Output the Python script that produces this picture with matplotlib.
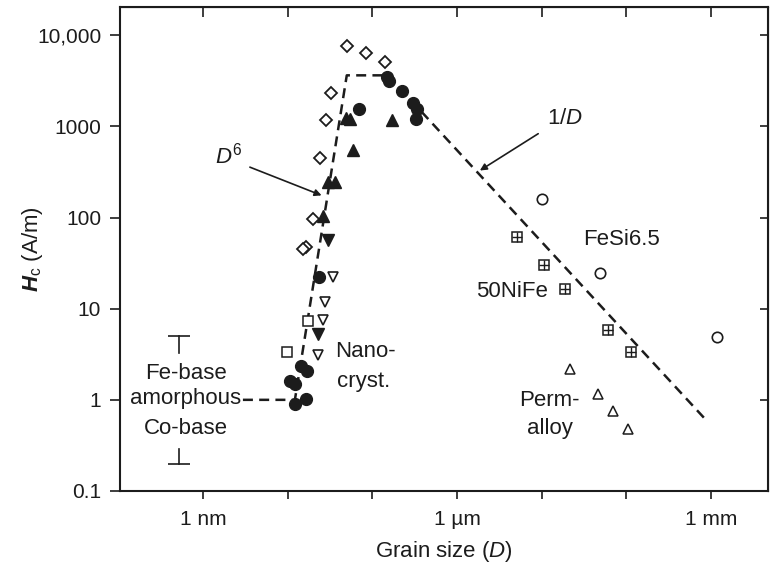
import matplotlib
matplotlib.use("Agg")
import matplotlib.pyplot as plt
import numpy as np

plt.rcParams['font.family'] = ['Liberation Sans', 'DejaVu Sans']
plt.rcParams['mathtext.fontset'] = 'custom'
plt.rcParams['mathtext.rm'] = 'Liberation Sans'
plt.rcParams['mathtext.it'] = 'Liberation Sans:italic'
plt.rcParams['mathtext.bf'] = 'Liberation Sans:bold'
plt.rcParams['mathtext.bfit'] = 'Liberation Sans:italic:bold'

# grain size in nm, Hc in A/m
diam_x = [49.7, 83.4, 141, 32.5, 28.3, 24.1, 19.7, 16.4, 15.3]
diam_y = [7570, 6390, 5090, 2320, 1164, 449, 96.8, 48, 45.3]

fcirc_x = [150, 158, 222, 299, 333, 327, 70, 23.6, 14.6, 16.8, 10.6, 12.2, 12.2, 16.4]
fcirc_y = [3480, 3150, 2440, 1800, 1566, 1215, 1538, 22.5, 2.36, 2.05, 1.62, 1.49, 0.90, 1.02]

ftri_x = [48.8, 54.4, 169, 58.5, 30.2, 36.2, 25.9]
ftri_y = [1247, 1216, 1185, 554, 244, 244, 105]

fdown_x = [30.2, 23.0]
fdown_y = [56.9, 5.27]

odown_x = [34.0, 27.6, 26.3, 23.0]
odown_y = [22.5, 11.7, 7.5, 3.12]

osq_x = [17.2, 9.9]
osq_y = [7.25, 3.37]

fesi_x = [9980, 48600, 1.16e6]
fesi_y = [160, 24.4, 4.92]

nife_x = [5050, 10700, 19100, 61000, 112000]
nife_y = [61.8, 30.2, 16.5, 5.83, 3.31]

perm_x = [21500, 45700, 69800, 105000]
perm_y = [2.17, 1.16, 0.757, 0.477]

# dashed guide: amorphous level, D^6, plateau, 1/D
guide_x = [2.97, 12.2, 50, 153, 8.45e5]
guide_y = [1.0, 1.0, 3630, 3630, 0.62]

# range bars for amorphous Fe-base / Co-base
amorph_x = 0.525
fe_top = [3.28, 5.05]
co_bot = [0.29, 0.198]

xticks = [1, 10, 100, 1e3, 1e4, 1e5, 1e6]
xlabels = ['1 nm', '', '', '1 \u00b5m', '', '', '1 mm']
yticks = [0.1, 1, 10, 100, 1000, 10000]
ylabels = ['0.1', '1', '10', '100', '1000', '10,000']

ink = '#1c1c1c'
fig = plt.figure(figsize=(7.77, 5.69), dpi=100)
ax = fig.add_axes([0.1544, 0.1371, 0.834, 0.8506])
ax.set_xscale('log')
ax.set_yscale('log')
ax.set_xlim(0.105, 4.7e6)
ax.set_ylim(0.1, 20400)

ax.plot(guide_x, guide_y, color=ink, lw=1.8, ls=(0, (4, 2.5)), zorder=2)

mk = dict(ls='none', color=ink, mec=ink, zorder=3)
ax.plot(diam_x, diam_y, marker='D', ms=6.5, mfc='white', mew=1.3, **mk)
ax.plot(fcirc_x, fcirc_y, marker='o', ms=8.5, **mk)
ax.plot(ftri_x, ftri_y, marker='^', ms=8.5, **mk)
ax.plot(fdown_x, fdown_y, marker='v', ms=8.5, **mk)
ax.plot(odown_x, odown_y, marker='v', ms=7.5, mfc='white', mew=1.2, **mk)
ax.plot(osq_x, osq_y, marker='s', ms=6.5, mfc='white', mew=1.1, **mk)
ax.plot(fesi_x, fesi_y, marker='o', ms=7.5, mfc='white', mew=1.2, **mk)
ax.plot(nife_x, nife_y, marker='s', ms=6.5, mfc='white', mew=1.1, **mk)
ax.plot(nife_x, nife_y, marker='+', ms=6.5, mew=1.0, **mk)
ax.plot(perm_x, perm_y, marker='^', ms=7, mfc='white', mew=1.1, **mk)

# T and inverted T marks
ax.plot([amorph_x] * 2, fe_top, color=ink, lw=1.2)
ax.plot([amorph_x], [fe_top[1]], marker='_', ms=16, mew=1.2, color=ink)
ax.plot([amorph_x] * 2, co_bot, color=ink, lw=1.2)
ax.plot([amorph_x], [co_bot[1]], marker='_', ms=16, mew=1.2, color=ink)

fs = 16
ax.text(0.63, 1.93, 'Fe-base', ha='center', va='center', fontsize=fs, color=ink)
ax.text(0.63, 1.03, 'amorphous', ha='center', va='center', fontsize=fs, color=ink)
ax.text(0.63, 0.49, 'Co-base', ha='center', va='center', fontsize=fs, color=ink)
ax.text(36.2, 3.4, 'Nano-', ha='left', va='center', fontsize=fs, color=ink)
ax.text(38.5, 1.6, 'cryst.', ha='left', va='center', fontsize=fs, color=ink)
ax.text(30600, 57.3, 'FeSi6.5', ha='left', va='center', fontsize=fs, color=ink)
ax.text(11800, 15.4, '50NiFe', ha='right', va='center', fontsize=fs, color=ink)
ax.text(12500, 0.975, 'Perm-', ha='center', va='center', fontsize=fs, color=ink)
ax.text(12500, 0.48, 'alloy', ha='center', va='center', fontsize=fs, color=ink)

arr = dict(arrowstyle='-|>', color=ink, lw=1.2, mutation_scale=10, shrinkA=0, shrinkB=0)
ax.annotate('', xy=(25.2, 175), xytext=(3.59, 357), arrowprops=arr)
ax.text(1.39, 480, '$D^6$', ha='left', va='center', fontsize=fs, color=ink)
ax.annotate('', xy=(1864, 328), xytext=(9100, 831), arrowprops=arr)
ax.text(18800, 1224, '1/$D$', ha='center', va='center', fontsize=fs, color=ink)

# axes / ticks
ax.set_xticks(xticks)
ax.set_xticklabels(xlabels)
ax.set_yticks(yticks)
ax.set_yticklabels(ylabels)
ax.minorticks_off()
ax.tick_params(axis='x', direction='out', length=6, width=1.2, pad=8, labelsize=15, colors=ink)
ax.tick_params(axis='y', direction='out', length=7, width=1.2, pad=6.5, labelsize=15, colors=ink)
for s in ax.spines.values():
    s.set_linewidth(1.5)
    s.set_color(ink)

top = ax.secondary_xaxis('top')
top.set_xticks(xticks)
top.set_xticklabels([])
top.tick_params(direction='in', length=7, width=1.2, colors=ink)
top.minorticks_off()
right = ax.secondary_yaxis('right')
right.set_yticks(yticks)
right.set_yticklabels([])
right.tick_params(direction='in', length=6, width=1.2, colors=ink)
right.minorticks_off()

ax.set_xlabel('Grain size ($D$)', fontsize=fs, color=ink, labelpad=7)
ax.set_ylabel(r'$\mathbfit{H}_{\mathrm{c}}$ (A/m)', fontsize=fs, color=ink)
ax.yaxis.set_label_coords(-0.116, 0.5)

fig.savefig('out.png', dpi=100, facecolor='white')
